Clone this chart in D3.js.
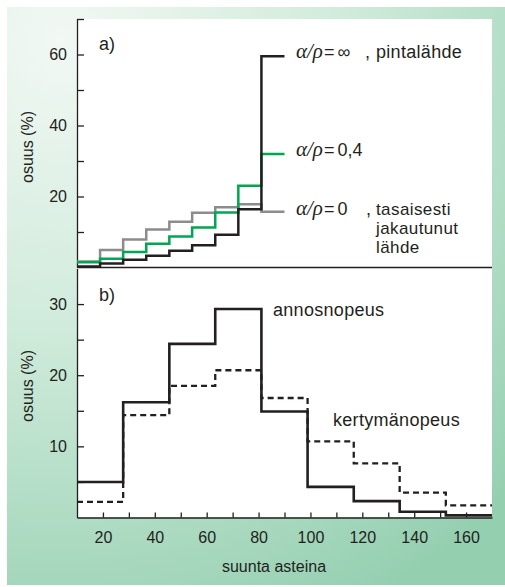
<!DOCTYPE html>
<html>
<head>
<meta charset="utf-8">
<script src="https://cdn.jsdelivr.net/npm/d3@7"></script>
<style>
  body { margin: 0; background: #fff; }
  svg { display: block; }
  text { font-family: "Liberation Sans", Arial, sans-serif; fill: #231f20; }
  .note { font-size: 18px; letter-spacing: 0.3px; }
  .note.small { font-size: 17px; letter-spacing: 0.4px; }
</style>
</head>
<body>
<div id="chart"></div>
<script>
// panel a) bins of ~8.9 degrees from 10 to 90
const edgesA = [10, 18.9, 27.8, 36.7, 45.6, 54.4, 63.3, 72.2, 81.1, 90];
const infValues = [0.3, 1.1, 2.2, 3.3, 4.7, 6.3, 9.2, 16.4, 59.5];
const midValues = [1.5, 2.5, 4.4, 6.7, 8.7, 11.3, 15.5, 23.0, 32.0];
const zeroValues = [1.7, 4.9, 7.9, 10.7, 12.9, 15.4, 17.0, 17.8, 15.7];

// panel b) bins of ~17.8 degrees from 10 to 170
const edgesB = [10, 27.8, 45.6, 63.3, 81.1, 98.9, 116.7, 134.4, 152.2, 170];
const doseValues = [5.0, 16.2, 24.4, 29.3, 14.9, 4.3, 2.3, 0.8, 0.3];
const accumValues = [2.2, 14.4, 18.5, 20.7, 16.8, 10.7, 7.6, 3.5, 1.7];

const xTicks = [20, 30, 40, 50, 60, 70, 80, 90, 100, 110, 120, 130, 140, 150, 160];
const yTicksA = [10, 20, 30, 40, 50, 60, 70];
const yTicksB = [5, 10, 15, 20, 25, 30];

const width = 505;
const height = 587;

const svg = d3.select('#chart')
  .append('svg')
  .attr('width', width)
  .attr('height', height);

// Background panel
const defs = svg.append('defs');
const grad = defs.append('radialGradient')
  .attr('id', 'bg')
  .attr('gradientUnits', 'userSpaceOnUse')
  .attr('cx', 60).attr('cy', 40).attr('r', 640);
grad.append('stop').attr('offset', '0%').attr('stop-color', '#f2f8f4');
grad.append('stop').attr('offset', '45%').attr('stop-color', '#d0ebdb');
grad.append('stop').attr('offset', '100%').attr('stop-color', '#94cfb0');

svg.append('rect')
  .attr('x', 7).attr('y', 7)
  .attr('width', width - 7).attr('height', 578)
  .attr('fill', 'url(#bg)');

const x = d3.scaleLinear().domain([10, 170]).range([77, 492]);
const yA = d3.scaleLinear().domain([0, 70]).range([267.5, 19]);
const yB = d3.scaleLinear().domain([0, 35]).range([517.5, 268.5]);

// White plot area
svg.append('rect')
  .attr('x', x(10)).attr('y', yA(70))
  .attr('width', x(170) - x(10)).attr('height', yB(0) - yA(70))
  .attr('fill', '#fff');

// Step line helper
function stepPoints(edges, values) {
  return edges.map((e, i) => [e, values[Math.min(i, values.length - 1)]]);
}

function drawSteps(yScale, edges, values, color, dash, w) {
  const line = d3.line()
    .x(d => x(d[0]))
    .y(d => yScale(d[1]))
    .curve(d3.curveStepAfter);
  svg.append('path')
    .datum(stepPoints(edges, values))
    .attr('fill', 'none')
    .attr('stroke', color)
    .attr('stroke-width', w)
    .attr('stroke-dasharray', dash)
    .attr('d', line);
}

// Axes
const axisA = svg.append('g')
  .attr('transform', `translate(${x(10)},0)`)
  .call(d3.axisLeft(yA).tickValues(yTicksA).tickSizeInner(-7).tickSizeOuter(0).tickPadding(10)
    .tickFormat(d => (d % 20 === 0 && d < 70) ? d : ''));

const axisB = svg.append('g')
  .attr('transform', `translate(${x(10)},0)`)
  .call(d3.axisLeft(yB).tickValues(yTicksB).tickSizeInner(-7).tickSizeOuter(0).tickPadding(10)
    .tickFormat(d => d % 10 === 0 ? d : ''));

const axisX = svg.append('g')
  .attr('transform', `translate(0,${yB(0)})`)
  .call(d3.axisBottom(x).tickValues(xTicks).tickSizeInner(-5).tickSizeOuter(0).tickPadding(14)
    .tickFormat(d => d % 20 === 0 ? d : ''));

[axisA, axisB, axisX].forEach(g => {
  g.selectAll('path, line').attr('stroke', '#231f20').attr('stroke-width', 1.3);
  g.selectAll('text').attr('font-size', 16).attr('fill', '#231f20');
});

// divider / baseline of panel a
svg.append('line')
  .attr('x1', x(10)).attr('x2', x(170))
  .attr('y1', yA(0)).attr('y2', yA(0))
  .attr('stroke', '#231f20')
  .attr('stroke-width', 1.3);

// Panel a lines
drawSteps(yA, edgesA, zeroValues, '#8c8c8c', null, 2.5);
drawSteps(yA, edgesA, midValues, '#00a651', null, 2.5);
drawSteps(yA, edgesA, infValues, '#231f20', null, 2.5);

// Panel b lines
drawSteps(yB, edgesB, doseValues, '#231f20', null, 2.6);
drawSteps(yB, edgesB, accumValues, '#231f20', '6,4', 2.3);

// Axis titles
svg.append('text')
  .attr('transform', 'translate(33,147) rotate(-90)')
  .attr('text-anchor', 'middle')
  .attr('font-size', 16)
  .text('osuus (%)');

svg.append('text')
  .attr('transform', 'translate(33,386) rotate(-90)')
  .attr('text-anchor', 'middle')
  .attr('font-size', 16)
  .text('osuus (%)');

svg.append('text')
  .attr('x', 274).attr('y', 572)
  .attr('text-anchor', 'middle')
  .attr('font-size', 16)
  .text('suunta asteina');

// Panel letters
svg.append('text').attr('x', 99).attr('y', 50).attr('font-size', 18).text('a)');
svg.append('text').attr('x', 99).attr('y', 301).attr('font-size', 18).text('b)');

// Legend labels for panel a
function ratioLabel(yPos, rhs) {
  const t = svg.append('text')
    .attr('x', 296).attr('y', yPos)
    .attr('font-size', 18);
  t.append('tspan')
    .attr('font-family', '"Liberation Serif", serif')
    .attr('font-style', 'italic')
    .attr('font-size', 21)
    .text('α/ρ');
  t.append('tspan').attr('dx', 1).text('=');
  t.append('tspan').attr('dx', 3).text(rhs);
}

ratioLabel(58, '∞');
svg.append('text').attr('class', 'note').attr('x', 365).attr('y', 58).text(',');
svg.append('text').attr('class', 'note').attr('x', 376).attr('y', 58).text('pintalähde');

ratioLabel(156, '0,4');

ratioLabel(215, '0');
svg.append('text').attr('class', 'note').attr('x', 366).attr('y', 215).text(',');
svg.append('text').attr('class', 'note small').attr('x', 376).attr('y', 215).text('tasaisesti');
svg.append('text').attr('class', 'note small').attr('x', 376).attr('y', 234).text('jakautunut');
svg.append('text').attr('class', 'note small').attr('x', 376).attr('y', 253).text('lähde');

// Panel b labels
svg.append('text').attr('class', 'note').attr('x', 273).attr('y', 316).text('annosnopeus');
svg.append('text').attr('class', 'note').attr('x', 333).attr('y', 426).text('kertymänopeus');
</script>
</body>
</html>
